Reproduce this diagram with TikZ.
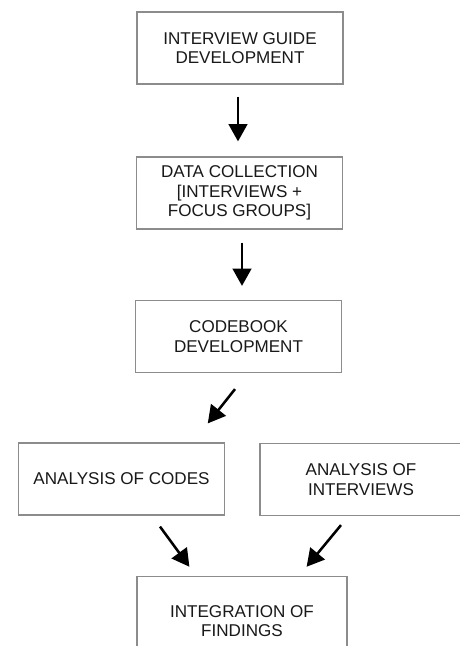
\documentclass[tikz,border=0pt]{standalone}
\usepackage{fontspec}
\setmainfont{Liberation Sans}
\usepackage{tikz}
\usetikzlibrary{arrows.meta,positioning,calc}

\begin{document}
\begin{tikzpicture}[x=0.75pt,y=-0.75pt,
	stage/.style={draw=black!45, line width=0.9pt, fill=white, text=black!90,
		align=center, inner sep=0pt, minimum height=54pt,
		font=\fontsize{12.8}{14.8}\selectfont},
	flow/.style={line width=1.9pt, -{Triangle[width=14pt,length=13pt]}}]
	%
	% page
	\clip (0,0) rectangle (460,646);
	\fill[white] (0,0) rectangle (460,646);
	
	% stages
	\node[stage, minimum width=154.5pt] (guide) at (240,48) {INTERVIEW GUIDE\\DEVELOPMENT};
	\node[stage, minimum width=154pt] (collect) at (239.5,193) {DATA COLLECTION\\{[}INTERVIEWS +\\FOCUS GROUPS{]}};
	\node[stage, minimum width=154pt] (codebook) at (238.5,336.5) {CODEBOOK\\DEVELOPMENT};
	%
	\node[stage, minimum width=154pt] (codes) at (121.5,479) {ANALYSIS OF CODES};
	\node[stage, minimum width=151.5pt] (interviews) at (361,479.5) {ANALYSIS OF\\INTERVIEWS};
	%
	\node[stage, minimum width=157.5pt, minimum height=67pt] (integ) at (242,621) {INTEGRATION OF\\FINDINGS};
	
	% arrows
	\draw[flow] ([shift={(-2,12)}]guide.south) -- ([shift={(-1.5,-15)}]collect.north);
	\draw[flow] ([shift={(2.5,13)}]collect.south) -- ([shift={(3.5,-14)}]codebook.north);
	\draw[flow] ([shift={(-3.5,16)}]codebook.south) -- ([shift={(-17,-19)}]codes.north east);
	%
	\draw[flow] ([shift={(38.5,11)}]codes.south) -- ([shift={(53,-9)}]integ.north west);
	\draw[flow] ([shift={(-20,9)}]interviews.south) -- ([shift={(-41,-9)}]integ.north east);
\end{tikzpicture}
\end{document}
